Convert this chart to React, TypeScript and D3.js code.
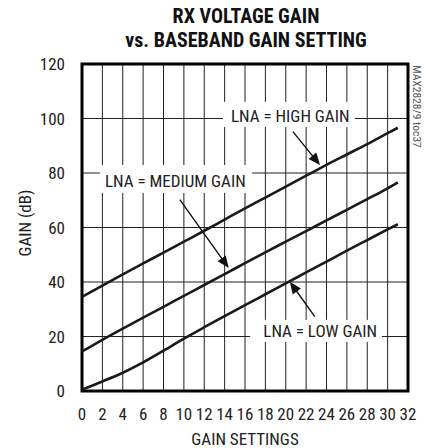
import React from "react";
import * as d3 from "d3";

const settings = [0, 2, 4, 6, 8, 10, 12, 14, 16, 18, 20, 22, 24, 26, 28, 30, 31];
const highGain = [34.5, 38.7, 42.8, 46.8, 50.8, 54.8, 58.8, 62.9, 67, 71, 75, 79, 83, 86.8, 90.6, 94.6, 96.6];
const mediumGain = [14.5, 18.8, 22.9, 26.9, 30.9, 34.9, 38.9, 42.9, 46.9, 50.9, 54.8, 58.7, 62.6, 66.5, 70.4, 74.4, 76.6];
const lowGain = [0.5, 3.5, 6.7, 10.5, 14.8, 19.2, 23.4, 27.5, 31.5, 35.5, 39.5, 43.5, 47.5, 51.5, 55.4, 59.3, 61.2];
const xTicks = d3.range(0, 33, 2);
const yTicks = [0, 20, 40, 60, 80, 100, 120];
const seriesLabels = ["LNA = HIGH GAIN", "LNA = MEDIUM GAIN", "LNA = LOW GAIN"];

const W = 427, H = 448;
const L = 82, R = 408, T = 64, B = 391;
const FONT = "'Liberation Sans Narrow', 'Arial Narrow', 'Roboto Condensed', sans-serif";

export default function App() {
  const x = d3.scaleLinear().domain([0, 32]).range([L, R]);
  const y = d3.scaleLinear().domain([0, 120]).range([B, T]);
  const line = d3.line<number>().x((_, i) => x(settings[i])).y((d) => y(d)).curve(d3.curveMonotoneX);
  const series = [highGain, mediumGain, lowGain];

  const boxes = [
    { x0: 13.84, x1: 26.8, y0: 106.1, y1: 96.9, tx: 14.63, ty: 98.6, label: seriesLabels[0], arrow: [[20.7, 95.2], [23.36, 82.9]] },
    { x0: 1.77, x1: 16.69, y0: 82.9, y1: 72.7, tx: 2.26, ty: 74.9, label: seriesLabels[1], arrow: [[9.6, 70.2], [14.4, 45.1]] },
    { x0: 16.5, x1: 29.45, y0: 26.1, y1: 18.0, tx: 17.8, ty: 19.9, label: seriesLabels[2], arrow: [[22.85, 27.3], [20.4, 40.1]] },
  ];

  const arrowHead = (x1: number, y1: number, x2: number, y2: number) => {
    const ang = Math.atan2(y2 - y1, x2 - x1);
    const len = 12, w = 5;
    const bx = x2 - len * Math.cos(ang), by = y2 - len * Math.sin(ang);
    const px = -Math.sin(ang) * w, py = Math.cos(ang) * w;
    return `M${x2},${y2}L${bx + px},${by + py}L${bx - px},${by - py}Z`;
  };

  return (
    <svg width={W} height={H} style={{ position: "absolute", left: 0, top: 0, background: "#fff" }} fontFamily={FONT}>
      <text x={246} y={22.5} textAnchor="middle" fontSize={20} fontWeight="bold" fill="#111">RX VOLTAGE GAIN</text>
      <text x={246} y={46.5} textAnchor="middle" fontSize={20} fontWeight="bold" fill="#111">vs. BASEBAND GAIN SETTING</text>

      {xTicks.map((t) => (
        <line key={"vx" + t} x1={x(t)} x2={x(t)} y1={T} y2={B} stroke="#222" strokeWidth={1} />
      ))}
      {yTicks.map((t) => (
        <line key={"hy" + t} x1={L} x2={R} y1={y(t)} y2={y(t)} stroke="#222" strokeWidth={1} />
      ))}

      {boxes.map((b, i) => (
        <rect key={"bx" + i} x={x(b.x0)} y={y(b.y0)} width={x(b.x1) - x(b.x0)} height={y(b.y1) - y(b.y0)} fill="#fff" />
      ))}

      <rect x={L} y={T} width={R - L} height={B - T} fill="none" stroke="#000" strokeWidth={3} />

      {series.map((s, i) => (
        <path key={"s" + i} d={line(s) || ""} fill="none" stroke="#1a1a1a" strokeWidth={2.6} />
      ))}

      {boxes.map((b, i) => {
        const [[ax1, ay1], [ax2, ay2]] = b.arrow;
        const X1 = x(ax1), Y1 = y(ay1), X2 = x(ax2), Y2 = y(ay2);
        const ang = Math.atan2(Y2 - Y1, X2 - X1);
        return (
          <g key={"lab" + i}>
            <text x={x(b.tx)} y={y(b.ty)} fontSize={17} fill="#222">{b.label}</text>
            <line x1={X1} y1={Y1} x2={X2 - 8 * Math.cos(ang)} y2={Y2 - 8 * Math.sin(ang)} stroke="#111" strokeWidth={1.4} />
            <path d={arrowHead(X1, Y1, X2, Y2)} fill="#111" />
          </g>
        );
      })}

      {xTicks.map((t) => (
        <text key={"xl" + t} x={x(t)} y={420} textAnchor="middle" fontSize={17} fill="#222">{t}</text>
      ))}
      {yTicks.map((t) => (
        <text key={"yl" + t} x={65} y={y(t) + 6} textAnchor="end" fontSize={17} fill="#222">{t}</text>
      ))}
      <text x={245} y={445} textAnchor="middle" fontSize={17} fill="#222">GAIN SETTINGS</text>
      <text transform={`translate(31,223) rotate(-90)`} textAnchor="middle" fontSize={17} fill="#222">GAIN (dB)</text>
      <text transform={`translate(413,65) rotate(90)`} textAnchor="start" fontSize={11.5} fill="#555">MAX2828/9 toc37</text>
    </svg>
  );
}
